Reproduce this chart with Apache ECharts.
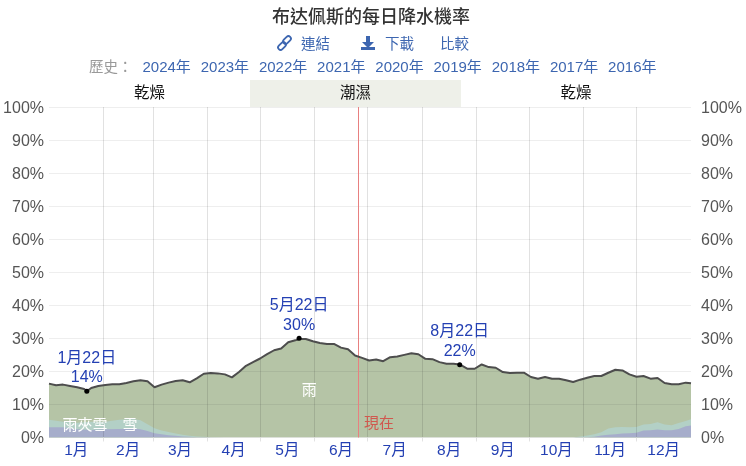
<!DOCTYPE html>
<html>
<head>
<meta charset="utf-8">
<title>chart</title>
<style>html,body{margin:0;padding:0;background:#fff}#x{width:746px;height:466px}</style>
<script src="https://cdn.jsdelivr.net/npm/echarts@6/dist/echarts.min.js"></script>
</head>
<body>
<div id="x"></div>
<script>
// day of year
var days=[0,4,8,12,16,20,21.5,24,28,32,36,40,44,48,52,56,60,64,68,72,76,80,84,88,92,96,100,104,108,112,116,120,124,128,132,136,140,142.2,146,150,154,158,162,166,170,174,178,182,186,190,194,198,202,206,210,214,218,222,226,230,233.5,238,242,246,250,254,258,262,266,270,274,278,282,286,290,294,298,302,306,310,314,318,322,326,330,334,338,342,346,350,354,358,362,365];
var total=[16.3,15.8,16.0,15.6,15.2,14.7,14.0,15.0,15.6,15.9,16.1,16.1,16.5,17.0,17.3,17.0,15.2,16.0,16.6,17.1,17.3,16.7,17.9,19.3,19.5,19.4,19.1,18.2,19.8,21.7,22.8,23.9,25.2,26.4,26.9,28.8,29.4,29.8,29.8,29.1,28.6,28.3,28.3,27.2,26.7,24.8,24.1,23.3,23.6,23.1,24.3,24.5,25.0,25.5,25.2,23.8,23.7,22.8,22.3,22.3,22.1,20.8,20.8,22.1,21.3,21.1,19.8,19.5,19.6,19.6,18.3,17.8,18.3,17.8,17.8,17.3,16.8,17.5,18.1,18.6,18.6,19.6,20.5,20.3,19.1,18.4,18.6,17.8,18.0,16.5,16.1,16.1,16.6,16.4];
// snow and rain-and-snow, top edge of each band
var coldDays=[0,8,16,24,32,40,48,52,56,60,64,68,72,76,80,84,88,92,100,298,306,310,314,318,322,326,330,334,338,342,346,350,354,358,362,365];
var mixedTop=[5.4,4.8,4.5,4.8,4.8,5.4,5.6,5.2,4.0,2.8,2.1,1.7,1.2,0.8,0.5,0.3,0.2,0.1,0,0,0.6,1.0,1.6,2.7,3.1,3.2,3.1,3.2,3.9,4.1,4.6,3.9,3.7,4.4,5.0,5.5];
var snowTop=[3.1,3.1,2.5,2.3,2.5,2.6,2.7,2.5,2.0,1.3,1.0,0.7,0.5,0.3,0.2,0.1,0.05,0,0,0,0.1,0.2,0.6,0.8,1.0,1.2,1.3,1.4,2.1,2.2,2.4,2.2,2.2,2.6,3.4,3.6];

var monthStarts=[31,59,90,120,151,181,212,243,273,304,334];
var monthMids=[15.5,45,74.5,105,135.5,166,196.5,227.5,258,288.5,319,349.5];
var monthNames=['1月','2月','3月','4月','5月','6月','7月','8月','9月','10月','11月','12月'];
var highlights=[[21.5,14,'1月22日'],[142.2,30,'5月22日'],[233.5,22,'8月22日']];
var seasons=[['乾燥',0,114.3],['潮濕',114.3,234.2],['乾燥',234.2,365]];
var nowDay=175.7;
var areaNames=[['雨',148,14.2],['雨夾雪',20.5,3.6],['雪',46,3.6]];
var years=['2024年','2023年','2022年','2021年','2020年','2019年','2018年','2017年','2016年'];

var FONT='"Liberation Sans","Noto Sans CJK TC",sans-serif';
var BLUE='#2440b3', LINK='#3d66b0';

function pairs(xs,ys){
	var r=[];
	for(var i=0;i<xs.length;i++){ r.push([xs[i],ys[i]]); }
	return r;
}
function area(name,data,color,z){
	return {name:name,type:'line',data:data,showSymbol:false,symbol:'none',silent:true,z:z,
		lineStyle:{width:0},areaStyle:{color:color,opacity:1}};
}
function txt(str,x,y,size,color,align,weight){
	return {type:'text',x:x,y:y,silent:true,style:{text:str,font:(weight||'normal')+' '+size+'px '+FONT,fill:color,align:align||'left',verticalAlign:'middle'}};
}
function chainLink(x,y){
	return {type:'rect',silent:true,x:x,y:y,rotation:-Math.PI/4,shape:{x:-2.5,y:-4.5,width:5,height:9,r:2.5},
		style:{fill:null,stroke:LINK,lineWidth:1.8}};
}
// rich text so the percent labels can sit a little lower, like the original
var pctRich={p:{fontSize:16,color:'#555',fontFamily:FONT,padding:[3,0,0,0]}};

var graphics=[
	txt('布达佩斯的每日降水機率',371,18.5,18,'#333','center','500'),
	txt('連結',301,45,14.5,LINK),
	txt('下載',385,45,14.5,LINK),
	txt('比較',440,45,14.5,LINK),
	txt('歷史：',89,68,14.5,'#999'),
	chainLink(287,40),
	chainLink(282,46),
	{type:'polygon',silent:true,shape:{points:[[366,36],[370,36],[370,42],[374,42],[368,48],[362,42],[366,42]]},style:{fill:LINK}},
	{type:'rect',silent:true,shape:{x:361,y:47,width:14,height:3},style:{fill:LINK}}
];
years.forEach(function(y,i){ graphics.push(txt(y,142.5+i*58.2,68,15,LINK)); });

var option={
	animation:false,
	backgroundColor:'#fff',
	textStyle:{fontFamily:FONT},
	graphic:graphics,
	grid:[
		{left:49,right:55,top:107,bottom:28.5},
		{left:49,right:55,top:80,height:27}
	],
	xAxis:[
		{type:'value',min:0,max:365,z:3,
			axisLine:{show:false},
			axisTick:{show:true,length:4,customValues:monthStarts,lineStyle:{color:'#e2e2e2'}},
			axisLabel:{customValues:monthMids,margin:5,fontSize:15.5,color:BLUE,fontFamily:FONT,
				formatter:function(v){return monthNames[monthMids.indexOf(v)];}},
			splitLine:{show:true,lineStyle:{color:'rgba(40,40,40,0.14)',width:1}}},
		{type:'value',gridIndex:1,min:0,max:365,show:false}
	],
	yAxis:[
		{type:'value',min:0,max:100,interval:10,z:3,
			axisLine:{show:false},axisTick:{show:false},
			axisLabel:{margin:5,rich:pctRich,formatter:function(v){return '{p|'+v+'%}';}},
			splitLine:{lineStyle:{color:'rgba(40,40,40,0.08)',width:1}}},
		{type:'value',min:0,max:100,interval:10,position:'right',
			axisLine:{show:false},axisTick:{show:false},
			axisLabel:{margin:10,rich:pctRich,formatter:function(v){return '{p|'+v+'%}';}},
			splitLine:{show:false}},
		{type:'value',gridIndex:1,min:0,max:1,show:false}
	],
	series:[
		area('雨',pairs(days,total),'#b5c4a6',1),
		area('雨夾雪',pairs(coldDays,mixedTop),'#b3d0c6',1.1),
		area('雪',pairs(coldDays,snowTop),'#a6adcb',1.2),
		{name:'total',type:'line',data:pairs(days,total),symbol:'none',silent:true,z:5,
			lineStyle:{color:'#4d4d4d',width:2}},
		{name:'now',type:'line',data:[],silent:true,z:6,
			markLine:{silent:true,symbol:'none',animation:false,label:{show:false},
				lineStyle:{color:'#e88080',width:1,type:'solid'},data:[{xAxis:nowDay}]}},
		{name:'nowLabel',type:'scatter',data:[[nowDay,0]],symbolSize:0,silent:true,z:7,itemStyle:{opacity:1},
			label:{show:true,formatter:'現在',position:[6,-21],color:'#d0584e',fontSize:15,fontFamily:FONT}},
		{name:'areaNames',type:'scatter',data:areaNames.map(function(a){return {name:a[0],value:[a[1],a[2]]};}),symbolSize:0,silent:true,z:7,itemStyle:{opacity:1},
			label:{show:true,formatter:'{b}',position:'inside',color:'#fff',fontSize:15,fontFamily:FONT}},
		{name:'highlights',type:'scatter',data:highlights.map(function(h){return {name:h[2],value:[h[0],h[1]]};}),
			symbolSize:5,itemStyle:{color:'#000',opacity:1},silent:true,z:8,
			label:{show:true,position:'top',distance:1,lineHeight:19.5,color:BLUE,fontSize:16,fontFamily:FONT,
				formatter:function(p){return p.name+'\n'+p.value[1]+'%';}}},
		{name:'seasons',type:'line',xAxisIndex:1,yAxisIndex:2,data:[[0,0]],symbol:'none',silent:true,
			lineStyle:{width:0},
			markArea:{silent:true,animation:false,
				label:{show:true,position:'inside',color:'#111',fontSize:15.5,fontFamily:FONT},
				data:seasons.map(function(s){
					return [{name:s[0],xAxis:s[1],yAxis:0,itemStyle:{color:s[0]=='潮濕'?'#eef0e9':'rgba(0,0,0,0)'}},{xAxis:s[2],yAxis:1}];
				})}}
	]
};
var chart=echarts.init(document.getElementById('x'));
chart.setOption(option);
</script>
</body>
</html>
